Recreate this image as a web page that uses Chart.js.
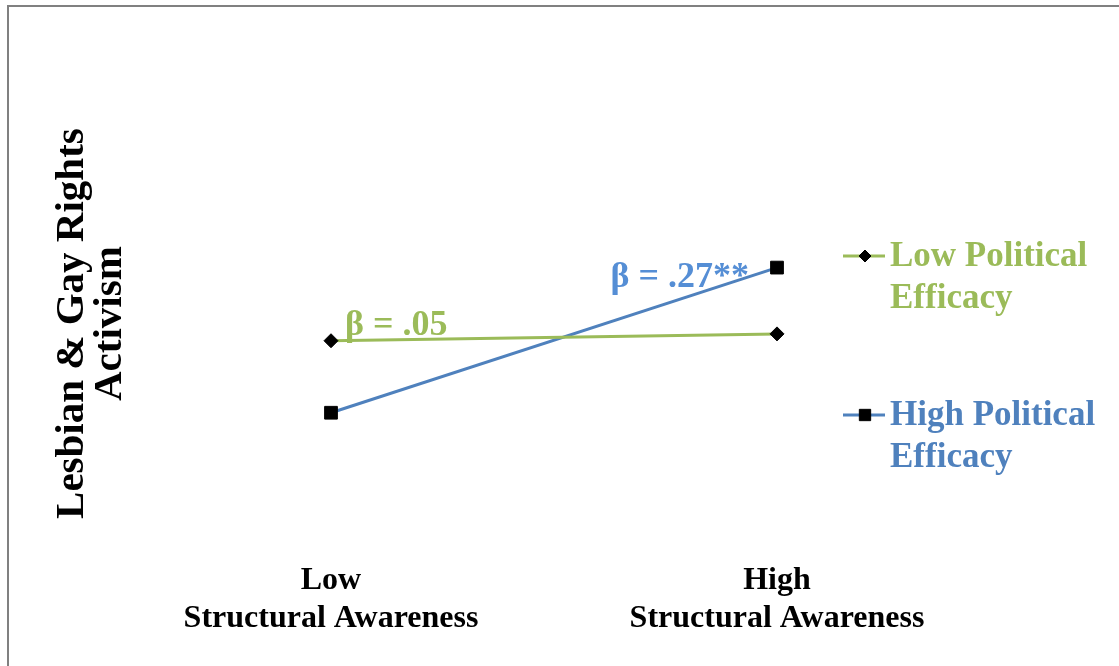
<!DOCTYPE html>
<html>
<head>
<meta charset="utf-8">
<script src="https://cdn.jsdelivr.net/npm/chart.js@4"></script>
<style>
  html, body { margin: 0; padding: 0; background: #fff; }
  #wrap { position: relative; width: 1119px; height: 666px; }
</style>
</head>
<body>
<div id="wrap"><canvas id="c" width="1119" height="666"></canvas></div>
<script>
// Simple-slopes plot: activism by structural awareness, at low / high political efficacy
const categories = [["Low", "Structural Awareness"], ["High", "Structural Awareness"]];
const seriesNames = [["Low Political", "Efficacy"], ["High Political", "Efficacy"]];
const lowEfficacy = [2.85, 2.91];
const highEfficacy = [2.22, 3.49];
const slopeLabels = ["\u03b2 = .05", "\u03b2 = .27**"];
const yTitle = ["Lesbian & Gay Rights", "Activism"];

const GREEN = "#9BBB59";
const BLUE = "#4F81BD";
const SERIF = "'Liberation Serif', 'Times New Roman', serif";

// frame line along the top and left edges
const framePlugin = {
  id: "frame",
  beforeDraw(chart) {
    const ctx = chart.ctx;
    ctx.save();
    ctx.strokeStyle = "#808080";
    ctx.lineWidth = 2;
    ctx.beginPath();
    ctx.moveTo(8, chart.height);
    ctx.lineTo(8, 6);
    ctx.lineTo(chart.width, 6);
    ctx.stroke();
    ctx.restore();
  }
};

// slope annotations placed next to each line
const slopePlugin = {
  id: "slopes",
  afterDatasetsDraw(chart) {
    const ctx = chart.ctx;
    const x = chart.scales.x, y = chart.scales.y;
    ctx.save();
    ctx.font = "bold 36px " + SERIF;
    ctx.textBaseline = "alphabetic";
    // low efficacy: above the left end of the line
    ctx.fillStyle = GREEN;
    ctx.textAlign = "left";
    ctx.fillText(slopeLabels[0], x.getPixelForValue(0) + 14, y.getPixelForValue(lowEfficacy[0]) - 6);
    // high efficacy: left of the upper end of the line
    ctx.fillStyle = "#558ED5";
    ctx.textAlign = "right";
    ctx.fillText(slopeLabels[1], x.getPixelForValue(1) - 28, y.getPixelForValue(highEfficacy[1]) + 19);
    ctx.restore();
  }
};

// legend with two-line entries on the right
const legendPlugin = {
  id: "sideLegend",
  afterDraw(chart) {
    const ctx = chart.ctx;
    const tops = [256, 415];
    ctx.save();
    chart.data.datasets.forEach((ds, i) => {
      const cy = tops[i];
      ctx.strokeStyle = ds.borderColor;
      ctx.lineWidth = 3;
      ctx.beginPath();
      ctx.moveTo(843, cy);
      ctx.lineTo(885, cy);
      ctx.stroke();
      ctx.fillStyle = "#000";
      ctx.strokeStyle = "#000";
      ctx.lineWidth = 1;
      Chart.helpers.drawPoint(ctx, {
        pointStyle: ds.pointStyle,
        radius: ds.pointStyle === "rect" ? 8 : 6,
        borderWidth: 1
      }, 865, cy);
      ctx.fillStyle = ds.borderColor;
      ctx.font = "bold 35px " + SERIF;
      ctx.textAlign = "left";
      ctx.textBaseline = "middle";
      seriesNames[i].forEach((line, k) => {
        ctx.fillText(line, 890, cy + 1 + k * 42);
      });
    });
    ctx.restore();
  }
};

new Chart(document.getElementById("c"), {
  type: "line",
  data: {
    labels: categories,
    datasets: [
      {
        label: seriesNames[0].join(" "),
        data: lowEfficacy,
        borderColor: GREEN,
        backgroundColor: "#000",
        borderWidth: 3,
        pointStyle: "rectRot",
        pointRadius: 7,
        pointBackgroundColor: "#000",
        pointBorderColor: "#000",
        pointBorderWidth: 1,
        tension: 0
      },
      {
        label: seriesNames[1].join(" "),
        data: highEfficacy,
        borderColor: BLUE,
        backgroundColor: "#000",
        borderWidth: 3,
        pointStyle: "rect",
        pointRadius: 9,
        pointBackgroundColor: "#000",
        pointBorderColor: "#000",
        pointBorderWidth: 1,
        tension: 0
      }
    ]
  },
  options: {
    responsive: false,
    animation: false,
    devicePixelRatio: 1,
    layout: { padding: { left: 49, right: 119, top: 95, bottom: 19 } },
    plugins: {
      legend: { display: false },
      tooltip: { enabled: false }
    },
    scales: {
      x: {
        type: "category",
        offset: true,
        grid: { display: false, drawTicks: false },
        border: { display: false },
        ticks: {
          color: "#000",
          padding: 9,
          font: { family: SERIF, size: 32, weight: "bold", lineHeight: 1.2 }
        }
      },
      y: {
        min: 1,
        max: 5,
        grid: { display: false, drawTicks: false },
        border: { display: false },
        ticks: { display: false },
        title: {
          display: true,
          text: yTitle,
          color: "#000",
          padding: { top: 4, bottom: 0 },
          font: { family: SERIF, size: 41, weight: "bold", lineHeight: 0.93 }
        },
        afterFit(scale) { scale.width = 59; }
      }
    }
  },
  plugins: [framePlugin, slopePlugin, legendPlugin]
});
</script>
</body>
</html>
